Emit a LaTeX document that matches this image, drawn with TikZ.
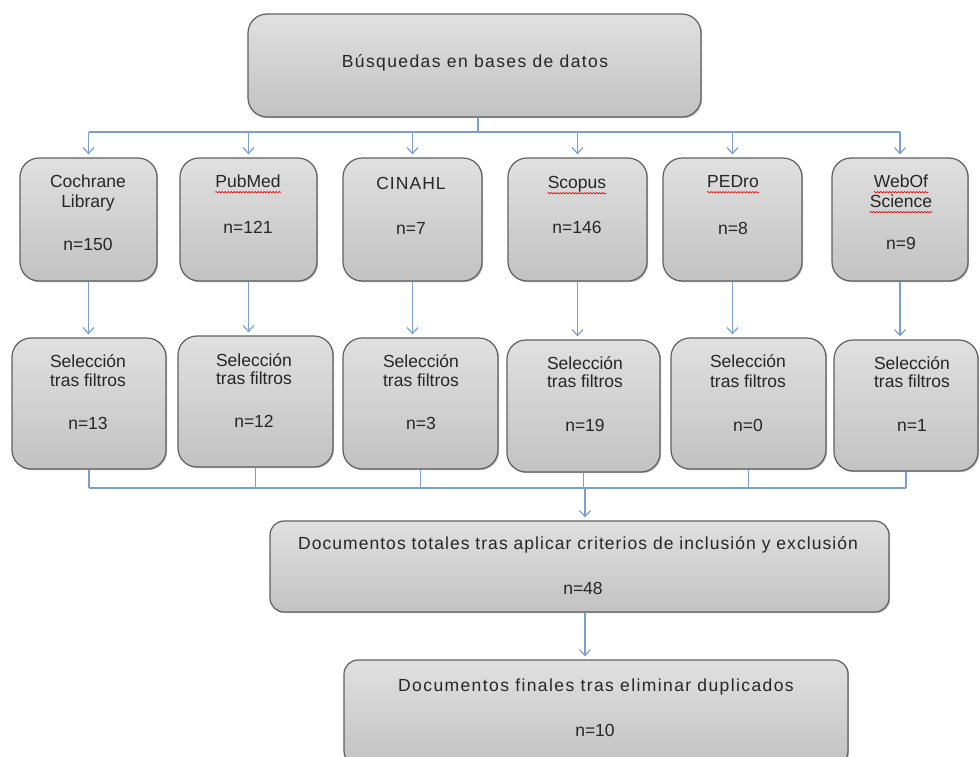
\documentclass[tikz,border=0pt]{standalone}
\usepackage{fontspec}
\setmainfont{Liberation Sans}
\usetikzlibrary{arrows.meta,decorations.pathmorphing,shadows}
\definecolor{connc}{RGB}{122,160,208}
\definecolor{boxtop}{RGB}{224,224,224}
\definecolor{boxbot}{RGB}{194,194,194}
\definecolor{boxline}{RGB}{95,95,95}
\tikzset{
 box/.style={draw=boxline, line width=1.2pt, rounded corners=19pt, top color=boxtop, bottom color=boxbot, inner sep=0pt,
   drop shadow={shadow xshift=1.2pt, shadow yshift=-1.2pt, opacity=0.25, fill=black}},
 txt/.style={font=\fontsize{17.5}{20}\selectfont, inner sep=0pt, text height=12.5pt, text depth=3.5pt, text=black!85},
 conn/.style={draw=connc, line width=1.4pt},
 arr/.style={conn, shorten >=3pt, -{Straight Barb[length=6pt,width=11pt,line width=1.2pt]}},
 spell/.style={draw=red!85!black, line width=0.6pt, decorate, decoration={snake, amplitude=0.7pt, segment length=3pt}}
}
\begin{document}
\begin{tikzpicture}[x=1pt,y=-1pt]
\useasboundingbox (0,0) rectangle (980,756);
% boxes
\node[box, minimum width=453pt, minimum height=103pt] (top) at (474.5,65.5) {};
\node[box, minimum width=137pt, minimum height=123pt] (c1) at (88.5,219.5) {};
\node[box, minimum width=137pt, minimum height=123pt] (c2) at (248.5,219.5) {};
\node[box, minimum width=139pt, minimum height=123pt] (c3) at (412.5,219.5) {};
\node[box, minimum width=139pt, minimum height=123pt] (c4) at (577.5,219.5) {};
\node[box, minimum width=139pt, minimum height=123pt] (c5) at (732.5,219.5) {};
\node[box, minimum width=136pt, minimum height=123pt] (c6) at (900,219.5) {};
\node[box, minimum width=154pt, minimum height=131pt] (s1) at (89,403.5) {};
\node[box, minimum width=155pt, minimum height=131pt] (s2) at (255.5,401.5) {};
\node[box, minimum width=155pt, minimum height=131pt] (s3) at (420.5,403.5) {};
\node[box, minimum width=153pt, minimum height=132pt] (s4) at (583.5,406) {};
\node[box, minimum width=155pt, minimum height=131pt] (s5) at (748.5,403.5) {};
\node[box, minimum width=144pt, minimum height=131pt] (s6) at (906,405.5) {};
\node[box, minimum width=619pt, minimum height=91pt, rounded corners=14pt] (tot) at (579.5,566.5) {};
\node[box, minimum width=504pt, minimum height=105pt, rounded corners=14pt] (fin) at (596,712.5) {};
% texts
\node[txt] (t0) at (475,63) {\addfontfeature{LetterSpace=8}Búsquedas en bases de datos};
\node[txt] (t1a) at (88,183) {Cochrane};
\node[txt] (t1b) at (88,203) {Library};
\node[txt] (t1c) at (88,246) {n=150};
\node[txt] (t2a) at (248,183) {PubMed};
\node[txt] (t2c) at (248,229) {n=121};
\node[txt] (t3a) at (411,185) {\addfontfeature{LetterSpace=6}CINAHL};
\node[txt] (t3c) at (411,230) {n=7};
\node[txt] (t4a) at (577,184) {Scopus};
\node[txt] (t4c) at (577,229) {n=146};
\node[txt] (t5a) at (733,183) {PEDro};
\node[txt] (t5c) at (733,230) {n=8};
\node[txt] (t6a) at (901,183) {WebOf};
\node[txt] (t6b) at (901,203) {Science};
\node[txt] (t6c) at (901,245) {n=9};
\node[txt] (u1a) at (88,363) {Selección};
\node[txt] (u1b) at (88,382) {tras filtros};
\node[txt] (u1c) at (88,425) {n=13};
\node[txt] (u2a) at (254,362) {Selección};
\node[txt] (u2b) at (254,380) {tras filtros};
\node[txt] (u2c) at (254,423) {n=12};
\node[txt] (u3a) at (421,363) {Selección};
\node[txt] (u3b) at (421,382) {tras filtros};
\node[txt] (u3c) at (421,425) {n=3};
\node[txt] (u4a) at (585,365) {Selección};
\node[txt] (u4b) at (585,383) {tras filtros};
\node[txt] (u4c) at (585,427) {n=19};
\node[txt] (u5a) at (748,363) {Selección};
\node[txt] (u5b) at (748,383) {tras filtros};
\node[txt] (u5c) at (748,427) {n=0};
\node[txt] (u6a) at (912,365) {Selección};
\node[txt] (u6b) at (912,383) {tras filtros};
\node[txt] (u6c) at (912,427) {n=1};
\node[txt] (v1) at (578,545) {\addfontfeature{LetterSpace=6}Documentos totales tras aplicar criterios de inclusión y exclusión};
\node[txt] (v2) at (583,590) {n=48};
\node[txt] (w1) at (596,687) {\addfontfeature{LetterSpace=8}Documentos finales tras eliminar duplicados};
\node[txt] (w2) at (595,732) {n=10};
% spell-check underlines
\foreach \n in {t2a,t4a,t5a,t6a,t6b}
  \draw[spell] ([yshift=-1pt]\n.south west) -- ([yshift=-1pt]\n.south east);
% connectors top
\coordinate (h) at (478,132);
\draw[conn] (top.south -| h) -- (h);
\draw[conn] (c1.north |- h) -- (c6.north |- h);
\foreach \c in {c1,c2,c3,c4,c5,c6}
  \draw[arr] (\c.north |- h) -- (\c.north);
% row 1 to row 2
\foreach \a/\b in {c1/s1,c2/s2,c3/s3,c4/s4,c5/s5,c6/s6}
  \draw[arr] (\a.south) -- (\a.south |- \b.north);
% row 2 to total
\coordinate (j) at (585,488);
\foreach \b in {s1,s2,s3,s4,s5,s6}
  \draw[conn] (\b.south) -- (\b.south |- j);
\draw[conn] (s1.south |- j) -- (s6.south |- j);
\draw[arr] (j) -- (j |- tot.north);
\draw[arr] (tot.south -| j) -- (fin.north -| j);
\end{tikzpicture}
\end{document}
